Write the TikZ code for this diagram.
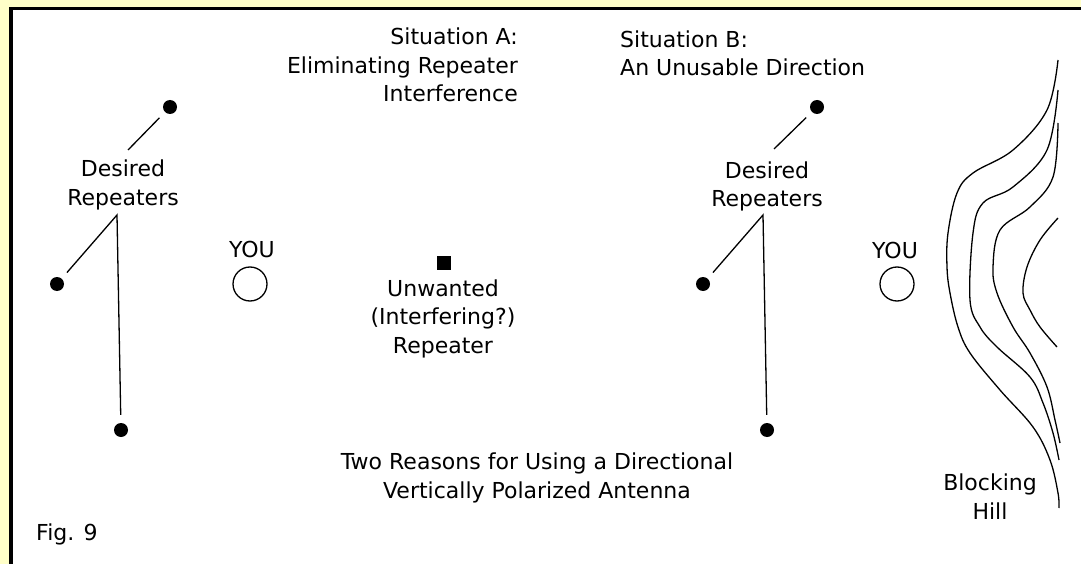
\documentclass[tikz,border=0pt]{standalone}
\usepackage{fontspec}
\setmainfont{DejaVu Sans}
\usetikzlibrary{positioning}
\definecolor{PanelYellow}{RGB}{255,255,200}

\begin{document}
\begin{tikzpicture}[
  x=1pt, y=-1pt,
  font=\fontsize{22}{28.5}\selectfont,
  lbl/.style={inner sep=0pt, align=center, anchor=base},
  repdot/.style={circle, fill=black, inner sep=0pt, minimum size=14pt},
  youring/.style={circle, draw=black, line width=1.3pt, inner sep=0pt, minimum size=34pt},
  unwantedsq/.style={fill=black, inner sep=0pt, minimum size=14pt},
  wire/.style={line width=1.3pt, shorten <=8pt, shorten >=8pt},
  contour/.style={line width=1.3pt, smooth, tension=0.6}
]
  \useasboundingbox (0,0) rectangle (1081,564);
  % frame
  \fill[PanelYellow] (-5,-5) rectangle (1090,570);
  \fill[white] (11,8.5) rectangle (1090,570);
  \draw[line width=3.5pt] (11,570) -- (11,8.5) -- (1090,8.5);

  % situation A (base = last line)
  \node[lbl, align=right, anchor=base east] (sitA) at (518,102) {Situation A:\\Eliminating Repeater\\Interference};
  \node[repdot] (aTop) at (170,107) {};
  \node[repdot] (aLeft) at (57,284) {};
  \node[repdot] (aLow) at (121,430) {};
  \coordinate (aTick) at (128,150);
  \coordinate (aApex) at (117,215);
  \node[lbl] (aLabel) at (123,205) {Desired\\Repeaters};
  \node[lbl] (aYou) at (252,257) {YOU};
  \node[youring] (aMe) at (250,284) {};
  \node[unwantedsq] (unwanted) at (444,263) {};
  \node[lbl] (unwantedLabel) at (443,353) {Unwanted\\(Interfering?)\\Repeater};

  \draw[wire, shorten >=0pt] (aTop) -- (aTick);
  \draw[wire] (aLeft) -- (aApex) -- (aLow);

  % situation B
  \node[lbl, align=left, anchor=base west] (sitB) at (620,76) {Situation B:\\An Unusable Direction};
  \node[repdot] (bTop) at (817,107) {};
  \node[repdot] (bLeft) at (703,284) {};
  \node[repdot] (bLow) at (767,430) {};
  \coordinate (bTick) at (774,149);
  \coordinate (bApex) at (763,215);
  \node[lbl] (bLabel) at (767,207) {Desired\\Repeaters};
  \node[lbl] (bYou) at (895,258) {YOU};
  \node[youring] (bMe) at (897,284) {};

  \draw[wire, shorten >=0pt] (bTop) -- (bTick);
  \draw[wire] (bLeft) -- (bApex) -- (bLow);

  % the hill
  \draw[contour] plot coordinates {(1058,60) (1047,110) (1013,150) (973,173) (957,193) (948,233) (947,267) (950,293) (958,327) (970,353) (1000,390) (1033,427) (1050,460) (1058,493) (1059,508)};
  \draw[contour] plot coordinates {(1058,90) (1047,150) (1013,187) (983,203) (973,233) (970,300) (980,327) (997,347) (1030,377) (1043,403) (1053,433) (1059,460)};
  \draw[contour] plot coordinates {(1058,123) (1053,177) (1030,207) (1000,230) (993,267) (997,293) (1013,327) (1030,353) (1047,387) (1055,420) (1060,443)};
  \draw[contour] plot coordinates {(1058,218) (1040,240) (1027,267) (1023,293) (1030,310) (1040,327) (1057,347)};
  \node[lbl] (hill) at (990,519) {Blocking\\Hill};

  % captions
  \node[lbl] (caption) at (537,498) {Two Reasons for Using a Directional\\Vertically Polarized Antenna};
  \node[lbl, anchor=base west] (fig) at (36,540) {Fig. 9};
\end{tikzpicture}
\end{document}
